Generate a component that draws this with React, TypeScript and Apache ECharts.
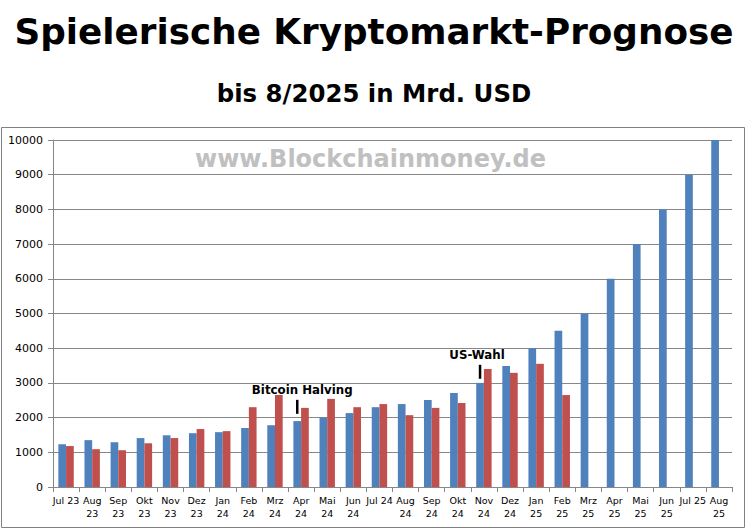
import React, { useEffect, useRef } from "react";
import * as echarts from "echarts";

const categories = [
  "Jul 23", "Aug\n23", "Sep\n23", "Okt\n23", "Nov\n23", "Dez\n23",
  "Jan\n24", "Feb\n24", "Mrz\n24", "Apr\n24", "Mai\n24", "Jun\n24",
  "Jul 24", "Aug\n24", "Sep\n24", "Okt\n24", "Nov\n24", "Dez\n24",
  "Jan\n25", "Feb\n25", "Mrz\n25", "Apr\n25", "Mai\n25", "Jun\n25",
  "Jul 25", "Aug\n25",
];

const forecast = [
  1230, 1350, 1290, 1410, 1490, 1550, 1580, 1700, 1780, 1900, 2000, 2130,
  2300, 2390, 2510, 2710, 3000, 3490, 4000, 4500, 5000, 6000, 7000, 8000,
  9000, 10000,
];

const actual = [
  1180, 1090, 1060, 1260, 1410, 1670, 1610, 2300, 2650, 2280, 2540, 2300,
  2390, 2070, 2280, 2420, 3400, 3290, 3550, 2650, null, null, null, null,
  null, null,
];

const events = [
  { name: "Bitcoin Halving", index: 9, value: 2310, offset: 5 },
  { name: "US-Wahl", index: 16, value: 3320, offset: -3 },
];

const FONT = "DejaVu Sans";
const GRID_COLOR = "#878787";

export default function App() {
  const ref = useRef<HTMLDivElement>(null);

  useEffect(() => {
    document.body.style.margin = "0";
    document.body.style.overflow = "hidden";
    if (!ref.current) return;
    const chart = echarts.init(ref.current, null, { renderer: "svg" });
    chart.setOption({
      animation: false,
      backgroundColor: "#ffffff",
      grid: { left: 53, right: 16, top: 140, bottom: 43, containLabel: false },
      graphic: [
        {
          type: "rect",
          shape: { x: 1.5, y: 127.5, width: 743, height: 400 },
          style: { fill: "none", stroke: "#808080", lineWidth: 1 },
          silent: true,
          z: 100,
        },
        {
          type: "text",
          x: 374,
          y: 31,
          style: {
            text: "Spielerische Kryptomarkt-Prognose",
            font: `bold 35.75px '${FONT}'`,
            fill: "#000000",
            textAlign: "center",
            textVerticalAlign: "middle",
          },
        },
        {
          type: "text",
          x: 374,
          y: 93,
          style: {
            text: "bis 8/2025 in Mrd. USD",
            font: `bold 24.4px '${FONT}'`,
            fill: "#000000",
            textAlign: "center",
            textVerticalAlign: "middle",
          },
        },
        {
          type: "text",
          x: 370.5,
          y: 159,
          z: 10,
          style: {
            text: "www.Blockchainmoney.de",
            font: `bold 24px '${FONT}'`,
            fill: "#c0c0c0",
            textAlign: "center",
            textVerticalAlign: "middle",
          },
        },
      ],
      xAxis: {
        type: "category",
        data: categories,
        boundaryGap: true,
        axisLine: { show: true, lineStyle: { color: GRID_COLOR, width: 1 } },
        axisTick: { show: true, length: 5, lineStyle: { color: GRID_COLOR } },
        axisLabel: {
          interval: 0,
          margin: 7,
          color: "#000000",
          fontFamily: FONT,
          fontSize: 9.5,
          lineHeight: 13,
        },
        splitLine: { show: false },
      },
      yAxis: {
        type: "value",
        min: 0,
        max: 10000,
        interval: 1000,
        axisLine: { show: true, lineStyle: { color: GRID_COLOR, width: 1 } },
        axisTick: { show: true, length: 5, lineStyle: { color: GRID_COLOR } },
        axisLabel: {
          margin: 10,
          color: "#000000",
          fontFamily: FONT,
          fontSize: 11,
          formatter: (v: number) => String(v),
        },
        splitLine: { show: true, lineStyle: { color: GRID_COLOR, width: 1 } },
      },
      series: [
        {
          name: "Prognose",
          type: "bar",
          data: forecast,
          barWidth: "29.5%",
          barGap: "0%",
          itemStyle: { color: "#4f81bd" },
          markPoint: {
            symbol: "rect",
            symbolSize: [2.5, 14],
            itemStyle: { color: "#000000" },
            label: {
              show: true,
              position: "top",
              distance: 4,
              color: "#000000",
              fontFamily: FONT,
              fontWeight: "bold",
              fontSize: 11.8,
              formatter: (p: any) => p.name,
            },
            data: events.map((e) => ({
              name: e.name,
              coord: [e.index, e.value],
              label: { offset: [e.offset, 0] },
            })),
          },
        },
        {
          name: "Real",
          type: "bar",
          data: actual,
          barWidth: "29.5%",
          barGap: "0%",
          itemStyle: { color: "#c0504d" },
        },
      ],
    });
    return () => chart.dispose();
  }, []);

  return <div ref={ref} style={{ width: 748, height: 530 }} />;
}
